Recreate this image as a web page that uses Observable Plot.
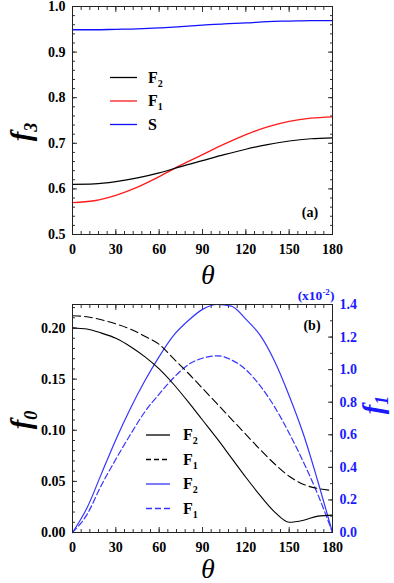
<!DOCTYPE html>
<html><head><meta charset="utf-8">
<script src="https://cdn.jsdelivr.net/npm/d3@7"></script>
<script src="https://cdn.jsdelivr.net/npm/@observablehq/plot@0.6"></script>
<style>
body{margin:0;background:#fff;}
#wrap{position:relative;width:394px;height:583px;overflow:hidden;}
#topPanel,#botPanel{position:absolute;left:0;width:394px;}
#topPanel{top:0;} #botPanel{top:290px;}
#ov{position:absolute;left:0;top:0;pointer-events:none;}
#wrap svg text{font-family:"Liberation Serif","Times New Roman",serif;}
</style></head><body>
<div id="wrap"><div id="topPanel"></div><div id="botPanel"></div>
<svg id="ov" width="394" height="583" font-weight="bold">
  <text transform="translate(31,132) rotate(-90)" text-anchor="middle" font-style="italic" font-size="29">f<tspan font-size="18" dy="6">3</tspan></text>
  <text x="208" y="284" text-anchor="middle" font-style="italic" font-weight="normal" font-size="28">θ</text>
  <text x="310" y="217" text-anchor="middle" font-size="14">(a)</text>
  <g id="legA"></g>
  <text transform="translate(31,420) rotate(-90)" text-anchor="middle" font-style="italic" font-size="29">f<tspan font-size="18" dy="6">0</tspan></text>
  <text transform="translate(383,405) rotate(-90)" text-anchor="middle" font-style="italic" font-size="29" fill="#1a1aff">f<tspan font-size="18" dy="5">1</tspan></text>
  <text x="208" y="578" text-anchor="middle" font-style="italic" font-weight="normal" font-size="28">θ</text>
  <text x="312" y="330" text-anchor="middle" font-size="14">(b)</text>
  <text x="316" y="300" text-anchor="middle" font-size="13.5" fill="#1a1aff">(x10<tspan font-size="9" dy="-5">-2</tspan><tspan dy="5">)</tspan></text>
  <g id="legB"></g>
</svg>
</div>
<script>
// ---------- data: panel (a) ----------
const thetaA = [0,15,30,45,60,75,90,105,120,135,150,165,180];
const f3_F2 = [0.610,0.611,0.616,0.624,0.635,0.649,0.662,0.675,0.687,0.697,0.705,0.710,0.712];
const f3_F1 = [0.570,0.574,0.586,0.604,0.627,0.652,0.675,0.698,0.719,0.736,0.748,0.755,0.758];
const f3_S  = [0.949,0.949,0.950,0.951,0.953,0.956,0.959,0.962,0.964,0.967,0.968,0.969,0.969];
// ---------- data: panel (b) ----------
const thetaB = [0,10,20,30,40,50,60,70,80,90,100,110,120,130,140,150,160,170,180];
const f0_F2 = [0.200,0.199,0.195,0.190,0.182,0.172,0.160,0.145,0.128,0.110,0.092,0.073,0.054,0.036,0.020,0.010,0.012,0.016,0.017];
const f0_F1 = [0.212,0.211,0.208,0.204,0.199,0.192,0.184,0.170,0.156,0.141,0.126,0.111,0.096,0.081,0.067,0.055,0.047,0.043,0.041];
const f1_F2 = [0,0.15,0.36,0.57,0.76,0.93,1.08,1.21,1.30,1.37,1.40,1.39,1.31,1.21,1.05,0.84,0.60,0.31,0];
const f1_F1 = [0,0.11,0.29,0.45,0.60,0.74,0.85,0.95,1.03,1.07,1.085,1.06,1.00,0.90,0.77,0.61,0.43,0.23,0];
// ---------- ticks ----------
const xTicks = [0,30,60,90,120,150,180];
const xMinor = d3.range(0,181,6);
const yTicksA = [0.5,0.6,0.7,0.8,0.9,1.0];
const yMinorA = d3.range(0,26).map(i=>0.5+i*0.02);
const yTicksB = [0,0.05,0.10,0.15,0.20];
const yMinorB = d3.range(0,23).map(i=>i*0.01);
const rTicks = [0,0.2,0.4,0.6,0.8,1.0,1.2,1.4];
const rMinor = d3.range(0,15).map(i=>i*0.1);
const legendA = [{t:"F",s:"2",c:"#000"},{t:"F",s:"1",c:"#ff1a1a"},{t:"S",s:"",c:"#1010ff"}];
const legendB = [{t:"F",s:"2",c:"#000",d:null},{t:"F",s:"1",c:"#000",d:"5,3"},{t:"F",s:"2",c:"#3535ff",d:null},{t:"F",s:"1",c:"#3535ff",d:"6,3"}];

const FONT = '"Liberation Serif", "Times New Roman", serif';
const BLUE = "#3535ff";
const W = 394, ML = 72, MR = 62;
const none = () => "";

// inward tick marks: axes drawn outward, then shifted inside the frame by their own length
function inTicks(yT, yM, rT, rM) {
  const o = {label:null, tickFormat:none, stroke:"#333", strokeWidth:1};
  return [
    Plot.axisX({...o, ticks:xTicks, tickSize:5, dy:-5}),
    Plot.axisX({...o, ticks:xMinor, tickSize:3, dy:-3}),
    Plot.axisX({...o, anchor:"top", ticks:xTicks, tickSize:5, dy:5}),
    Plot.axisX({...o, anchor:"top", ticks:xMinor, tickSize:3, dy:3}),
    Plot.axisY({...o, ticks:yT, tickSize:5, dx:5}),
    Plot.axisY({...o, ticks:yM, tickSize:3, dx:3}),
    Plot.axisY({...o, anchor:"right", ticks:rT, tickSize:5, dx:-5}),
    Plot.axisY({...o, anchor:"right", ticks:rM, tickSize:3, dx:-3})
  ];
}

const style = {fontFamily:FONT, fontSize:"14px", fontWeight:"bold", color:"#000", background:"transparent", overflow:"visible"};

const plotA = Plot.plot({
  width:W, height:290, marginLeft:ML, marginRight:MR, marginTop:6, marginBottom:56,
  style,
  x:{domain:[0,180]}, y:{domain:[0.5,1.0]},
  marks:[
    Plot.axisX({ticks:xTicks, tickSize:0, tickPadding:10, label:null, tickFormat:d=>String(d)}),
    Plot.axisY({ticks:yTicksA, tickSize:0, tickPadding:7, label:null, tickFormat:d3.format(".1f")}),
    ...inTicks(yTicksA, yMinorA, yTicksA, yMinorA),
    Plot.line(f3_S, {x:thetaA, y:d=>d, stroke:"#1010ff", strokeWidth:1.3, curve:"monotone-x"}),
    Plot.line(f3_F1, {x:thetaA, y:d=>d, stroke:"#ff1a1a", strokeWidth:1.3, curve:"monotone-x"}),
    Plot.line(f3_F2, {x:thetaA, y:d=>d, stroke:"#000", strokeWidth:1.2, curve:"monotone-x"}),
    Plot.frame({stroke:"#222"})
  ]
});
document.getElementById("topPanel").appendChild(plotA);

const YMAX = 0.223, K = YMAX/1.4;
const plotB = Plot.plot({
  width:W, height:293, marginLeft:ML, marginRight:MR, marginTop:14, marginBottom:51,
  style,
  x:{domain:[0,180]}, y:{domain:[0,YMAX]},
  marks:[
    Plot.axisX({ticks:xTicks, tickSize:0, tickPadding:10, label:null, tickFormat:d=>String(d)}),
    Plot.axisY({ticks:yTicksB, tickSize:0, tickPadding:7, label:null, tickFormat:d3.format(".2f")}),
    Plot.axisY({anchor:"right", ticks:rTicks.map(t=>t*K), tickSize:0, tickPadding:7, label:null, tickFormat:d=>(d/K).toFixed(1), fill:"#1a1aff", color:"#1a1aff"}),
    ...inTicks(yTicksB, yMinorB, rTicks.map(t=>t*K), rMinor.map(t=>t*K)),
    Plot.line(f1_F2, {x:thetaB, y:d=>d*K, stroke:BLUE, strokeWidth:1.2, curve:"monotone-x"}),
    Plot.line(f1_F1, {x:thetaB, y:d=>d*K, stroke:BLUE, strokeWidth:1.2, strokeDasharray:"6,3", curve:"monotone-x"}),
    Plot.line(f0_F2, {x:thetaB, y:d=>d, stroke:"#000", strokeWidth:1.1, curve:"monotone-x"}),
    Plot.line(f0_F1, {x:thetaB, y:d=>d, stroke:"#000", strokeWidth:1.1, strokeDasharray:"8,4", curve:"monotone-x"}),
    Plot.frame({stroke:"#222"})
  ]
});
document.getElementById("botPanel").appendChild(plotB);

// legends
function legend(id, items, x0, x1, xt, y0, dy) {
  const g = d3.select("#"+id);
  items.forEach((it,i)=>{
    const y = y0 + i*dy;
    g.append("line").attr("x1",x0).attr("x2",x1).attr("y1",y).attr("y2",y)
      .attr("stroke",it.c).attr("stroke-width",1.3).attr("stroke-dasharray",it.d||null);
    const t = g.append("text").attr("x",xt).attr("y",y+5).attr("font-size",16).text(it.t);
    if (it.s) t.append("tspan").attr("font-size",10).attr("dy",4).text(it.s);
  });
}
legend("legA", legendA, 110, 137, 148, 77.5, 23.5);
legend("legB", legendB, 146, 170, 183, 435, 24.5);
</script>
</body></html>
